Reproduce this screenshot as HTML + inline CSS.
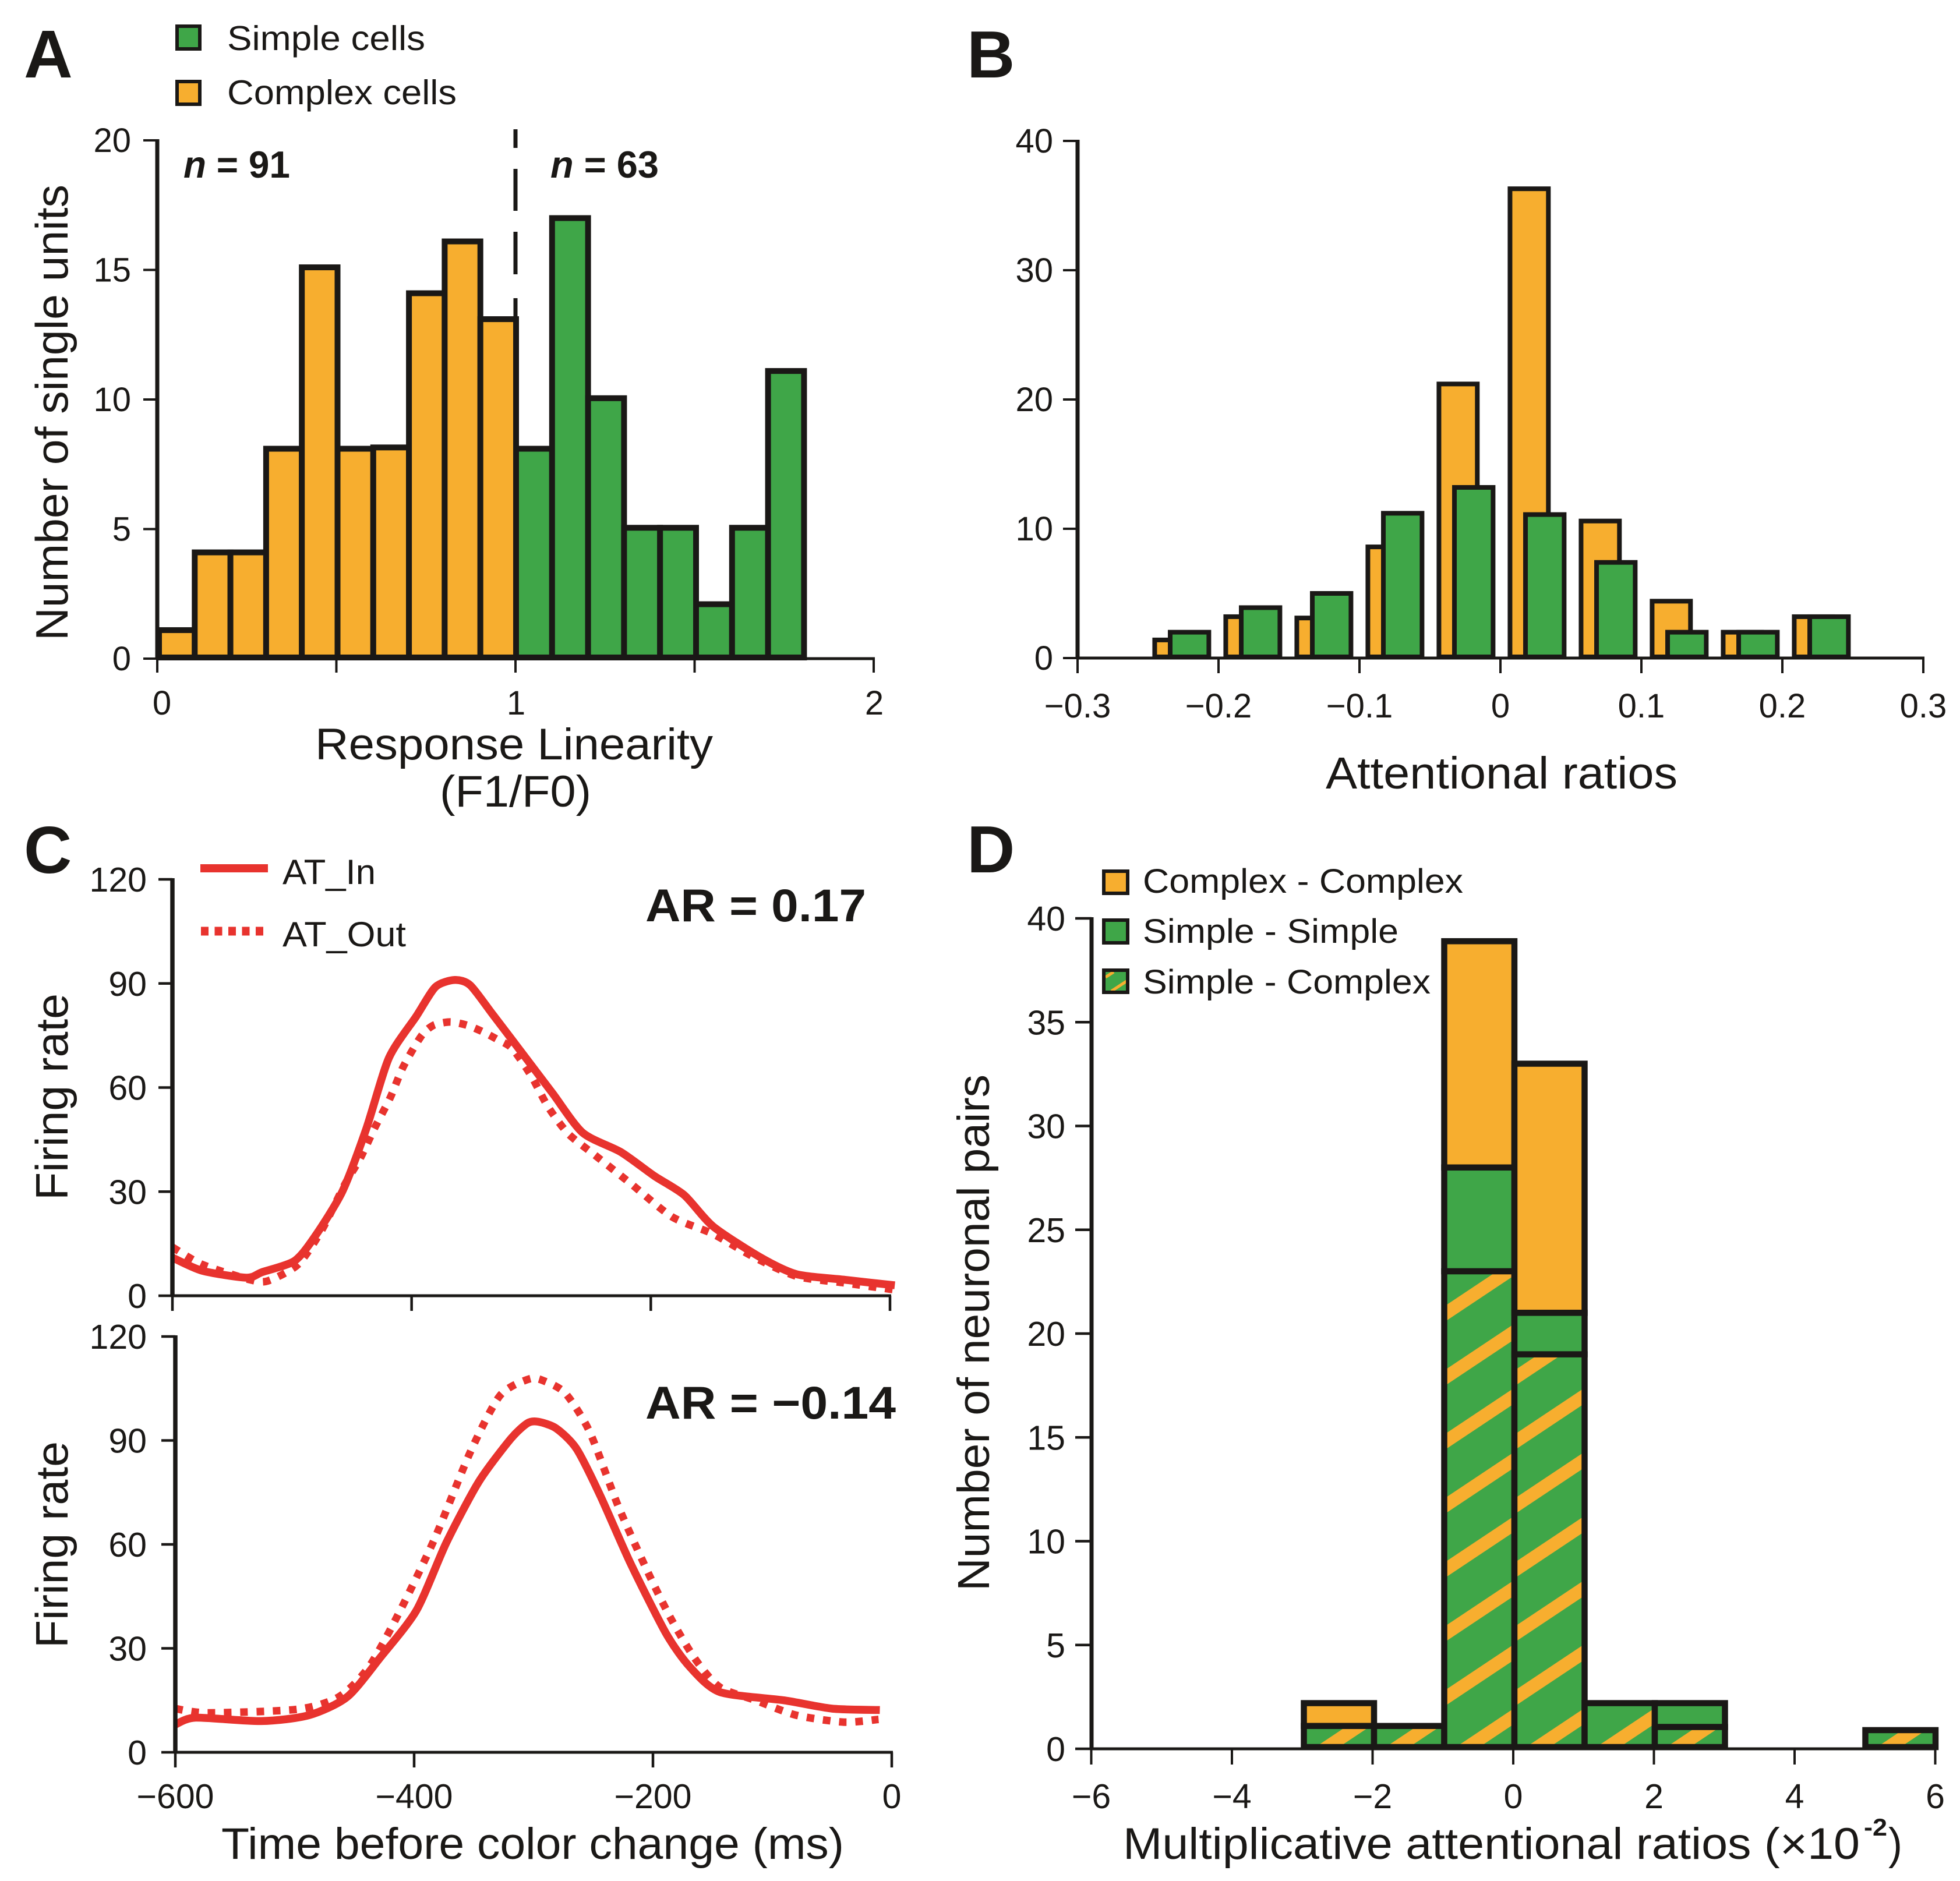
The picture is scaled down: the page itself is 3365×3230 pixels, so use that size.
<!DOCTYPE html>
<html lang="en">
<head>
<meta charset="utf-8">
<title>Attention and response linearity figure</title>
<style>
html,body{margin:0;padding:0;background:#fff}
svg{display:block;font-family:"Liberation Sans",Arial,sans-serif}
text{fill:#1a1816}
.b{font-weight:bold}
</style>
</head>
<body>
<svg id="fig" width="3365" height="3230" viewBox="0 0 3365 3230" xmlns="http://www.w3.org/2000/svg">
<defs id="defs"></defs>
<rect width="3365" height="3230" fill="#fff"/>

<g id="panelA"></g>
<g id="panelB"></g>
<g id="panelC"></g>
<g id="panelD"></g>

<!-- Panel letters -->
<text class="b" x="41" y="133" font-size="116">A</text>
<text class="b" x="1660" y="133" font-size="114">B</text>
<text class="b" x="41" y="1499" font-size="114">C</text>
<text class="b" x="1660" y="1498" font-size="114">D</text>

<!-- Panel A static -->
<g>
<rect x="304" y="45" width="39" height="39" fill="#3FA648" stroke="#1a1816" stroke-width="6"/>
<text x="390" y="86" font-size="59" textLength="340" lengthAdjust="spacingAndGlyphs">Simple cells</text>
<rect x="304" y="140" width="39" height="39" fill="#F7AE2F" stroke="#1a1816" stroke-width="6"/>
<text x="390" y="179" font-size="59" textLength="394" lengthAdjust="spacingAndGlyphs">Complex cells</text>
</g>
<text class="b" x="315" y="305" font-size="65" textLength="183" lengthAdjust="spacingAndGlyphs"><tspan font-style="italic">n</tspan> = 91</text>
<text class="b" x="945" y="305" font-size="65" textLength="186" lengthAdjust="spacingAndGlyphs"><tspan font-style="italic">n</tspan> = 63</text>
<text transform="translate(116,1100) rotate(-90)" font-size="78" textLength="783" lengthAdjust="spacingAndGlyphs">Number of single units</text>
<text x="541" y="1304" font-size="76" textLength="683" lengthAdjust="spacingAndGlyphs">Response Linearity</text>
<text x="755" y="1385" font-size="76" textLength="260" lengthAdjust="spacingAndGlyphs">(F1/F0)</text>

<!-- Panel B static -->
<text x="2276" y="1354" font-size="77" textLength="604" lengthAdjust="spacingAndGlyphs">Attentional ratios</text>

<!-- Panel C static -->
<g>
<line x1="344" y1="1491" x2="460" y2="1491" stroke="#E8332E" stroke-width="14"/>
<text x="485" y="1518" font-size="60" textLength="160" lengthAdjust="spacingAndGlyphs">AT_In</text>
<line x1="345" y1="1599" x2="452" y2="1599" stroke="#E8332E" stroke-width="15" stroke-dasharray="13 10.5"/>
<text x="485" y="1625" font-size="60" textLength="212" lengthAdjust="spacingAndGlyphs">AT_Out</text>
</g>
<text class="b" x="1108" y="1582" font-size="79" textLength="379" lengthAdjust="spacingAndGlyphs">AR = 0.17</text>
<text class="b" x="1108" y="2436" font-size="79" textLength="430" lengthAdjust="spacingAndGlyphs">AR = −0.14</text>
<text transform="translate(116,2061) rotate(-90)" font-size="78" textLength="355" lengthAdjust="spacingAndGlyphs">Firing rate</text>
<text transform="translate(116,2830) rotate(-90)" font-size="78" textLength="355" lengthAdjust="spacingAndGlyphs">Firing rate</text>
<text x="380" y="3192" font-size="76" textLength="1069" lengthAdjust="spacingAndGlyphs">Time before color change (ms)</text>

<!-- Panel D static -->
<g>
<rect x="1895" y="1496" width="41" height="38" fill="#F7AE2F" stroke="#1a1816" stroke-width="6"/>
<text x="1962" y="1533" font-size="58" textLength="550" lengthAdjust="spacingAndGlyphs">Complex - Complex</text>
<rect x="1895" y="1580" width="41" height="39" fill="#3FA648" stroke="#1a1816" stroke-width="6"/>
<text x="1962" y="1619" font-size="58" textLength="439" lengthAdjust="spacingAndGlyphs">Simple - Simple</text>
<rect x="1895" y="1666" width="41" height="38" fill="#3FA648"/>
<path d="M1898 1678 L1912 1669 M1908 1702 L1934 1685" stroke="#F7AE2F" stroke-width="5" fill="none"/>
<rect x="1895" y="1666" width="41" height="38" fill="none" stroke="#1a1816" stroke-width="6"/>
<text x="1962" y="1706" font-size="58" textLength="494" lengthAdjust="spacingAndGlyphs">Simple - Complex</text>
</g>
<text transform="translate(1698,2732) rotate(-90)" font-size="77" textLength="887" lengthAdjust="spacingAndGlyphs">Number of neuronal pairs</text>
<text x="1928" y="3192" font-size="76" textLength="1265" lengthAdjust="spacingAndGlyphs">Multiplicative attentional ratios (×10</text>
<text class="b" x="3200" y="3152" font-size="42" textLength="40" lengthAdjust="spacingAndGlyphs">-2</text>
<text x="3242" y="3192" font-size="76" textLength="24" lengthAdjust="spacingAndGlyphs">)</text>
</svg>

<script>
// Panel A data
const aYTicks = [0, 5, 10, 15, 20];
const aXTicks = [0, 0.5, 1, 1.5, 2];
const aXLabels = [0, 1, 2];
const aComplexCounts = [1.1, 4.1, 4.1, 8.1, 15.1, 8.1, 8.15, 14.1, 16.1, 13.1];
const aSimpleCounts = [8.1, 17, 10.05, 5.05, 5.05, 2.1, 5.05, 11.1];

// Panel B data
const bYTicks = [0, 10, 20, 30, 40];
const bXTicks = [-0.3, -0.2, -0.1, 0, 0.1, 0.2, 0.3];
const bXLabels = ['−0.3', '−0.2', '−0.1', '0', '0.1', '0.2', '0.3'];
const bBinCenters = [-0.225, -0.175, -0.125, -0.075, -0.025, 0.025, 0.075, 0.125, 0.175, 0.225];
const bComplexCounts = [1.4, 3.2, 3.1, 8.6, 21.2, 36.3, 10.6, 4.4, 2, 3.2];
const bSimpleCounts = [2, 3.9, 5, 11.2, 13.2, 11.1, 7.4, 2, 2, 3.2];

// Panel C data
const cYTicks = [0, 30, 60, 90, 120];
const cXTicks = [-600, -400, -200, 0];
const cXLabels = ['−600', '−400', '−200', '0'];
const topInTimes = [-600, -575, -538, -525, -498, -481, -458, -438, -419, -396, -380, -364, -351, -332, -302, -282, -257, -225, -197, -172, -148, -108, -78, -38, 4];
const topInRates = [11, 7.2, 5.2, 6.8, 10, 17, 30, 48, 68.5, 80.6, 89, 91, 89.5, 81, 67.4, 58.3, 47, 41.4, 34.5, 29, 20, 11, 6.2, 4.6, 3];
const topOutTimes = [-600, -575, -535, -520, -495, -475, -456, -443, -431, -418, -407, -392, -382, -368, -354, -340, -328, -316, -300, -286, -269, -247, -217, -182, -148, -113, -78, -38, 4];
const topOutRates = [14, 9, 4.6, 4.3, 9, 19, 32, 39.6, 48.3, 57, 66, 74.8, 77.9, 78.9, 78, 76, 73.8, 71.3, 63.4, 54.5, 46.7, 40.6, 32.4, 22.7, 17.8, 11, 5.6, 3.7, 1.7];
const botInTimes = [-600, -583, -528, -488, -456, -428, -398, -373, -346, -319, -305, -296, -281, -264, -244, -219, -189, -169, -144, -90, -50, -10];
const botInRates = [8, 10, 9, 10.7, 16, 27.5, 41, 60.5, 78, 90.5, 95, 95.4, 93.5, 87.6, 74, 54.7, 34.3, 24.6, 17.4, 15, 12.6, 12.2];
const botOutTimes = [-600, -573, -498, -463, -438, -413, -383, -353, -328, -303, -290, -273, -253, -229, -204, -184, -164, -144, -114, -80, -40, -11];
const botOutRates = [12.6, 11.4, 12.4, 16, 24.6, 40, 61.5, 86.6, 103, 107.8, 107, 103.5, 92.5, 71, 51.8, 38, 26.6, 18.8, 15, 10.7, 8.7, 9.5];

// Panel D data
const dYTicks = [0, 5, 10, 15, 20, 25, 30, 35, 40];
const dXTicks = [-6, -4, -2, 0, 2, 4, 6];
const dXLabels = ['−6', '−4', '−2', '0', '2', '4', '6'];
const dBinStarts = [-3, -2, -1, 0, 1, 2, 5];
const dSimpleComplex = [1.1, 1.1, 23, 19, 2.2, 1.05, 0.9];
const dSimpleSimple = [0, 0, 5, 2, 0, 1.15, 0];
const dComplexComplex = [1.1, 0, 10.9, 12, 0, 0, 0];

const NS = 'http://www.w3.org/2000/svg';
const INK = '#1a1816', ORANGE = '#F7AE2F', GREEN = '#3FA648', RED = '#E8332E';

function make(parent, tag, attrs) {
  const el = document.createElementNS(NS, tag);
  for (const k in attrs) el.setAttribute(k, attrs[k]);
  parent.appendChild(el);
  return el;
}

function line(parent, name, x1, y1, x2, y2, width) {
  const el = make(parent, 'line', {x1: x1, y1: y1, x2: x2, y2: y2, stroke: INK, 'stroke-width': width});
  
  
  return el;
}

function tickLabel(parent, name, str, x, y, size, anchor) {
  const el = make(parent, 'text', {x: x, y: y, 'font-size': size, 'text-anchor': anchor});
  el.textContent = str;
  
  
  return el;
}

function bar(parent, name, x0, x1, yTop, yBase, fill, width) {
  const el = make(parent, 'rect', {
    x: Math.min(x0, x1), y: yTop, width: Math.abs(x1 - x0), height: yBase - yTop,
    fill: fill, stroke: INK, 'stroke-width': width
  });
  
  
  return el;
}

function smoothPath(xs, ys) {
  let d = 'M' + xs[0].toFixed(1) + ' ' + ys[0].toFixed(1);
  const n = xs.length;
  const k = 8;
  for (let i = 0; i < n - 1; i++) {
    const a = Math.max(i - 1, 0), b = i + 1, c = Math.min(i + 2, n - 1);
    const c1x = xs[i] + (xs[b] - xs[a]) / k, c1y = ys[i] + (ys[b] - ys[a]) / k;
    const c2x = xs[b] - (xs[c] - xs[i]) / k, c2y = ys[b] - (ys[c] - ys[i]) / k;
    d += ' C' + c1x.toFixed(1) + ' ' + c1y.toFixed(1) + ' ' + c2x.toFixed(1) + ' ' + c2y.toFixed(1) + ' ' + xs[b].toFixed(1) + ' ' + ys[b].toFixed(1);
  }
  return d;
}

/* ---------- Panel A ---------- */
(function () {
  const g = document.getElementById('panelA');
  const x = v => 270 + v * 615;
  const y = v => 1131 - v * 44.5;
  const xLeft = v => 273 + v * 613;
  const xRight = v => 886 + (v - 1) * 618;
  aComplexCounts.forEach((c, i) => {
    bar(g, 'bar-complex-' + i, xLeft(i * 0.1), xLeft((i + 1) * 0.1), y(c), y(0) - 2, ORANGE, 10);
  });
  aSimpleCounts.forEach((c, i) => {
    bar(g, 'bar-simple-' + i, xRight(1 + i * 0.1), xRight(1 + (i + 1) * 0.1), y(c), y(0) - 2, GREEN, 10);
  });
  const dash = line(g, 'threshold-dashed-line', x(1), 222, x(1), 552, 7);
  dash.setAttribute('stroke-dasharray', '32 36 72 36 73 41 40');
  line(g, 'y-axis-a', x(0), y(20) - 2, x(0), y(0) + 2, 7);
  line(g, 'x-axis-a', x(0) - 2, y(0), x(2) + 2, y(0), 5);
  aYTicks.forEach(v => {
    line(g, 'y-tick-a-' + v, 246, y(v), x(0), y(v), 4);
    tickLabel(g, 'y-tick-label-a-' + v, String(v), 225, y(v) + 20, 58, 'end');
  });
  aXTicks.forEach(v => {
    line(g, 'x-tick-a-' + v, x(v), y(0), x(v), y(0) + 24, 4);
  });
  aXLabels.forEach(v => {
    tickLabel(g, 'x-tick-label-a-' + v, String(v), x(v) + (v === 0 ? 8 : 1), 1227, 58, 'middle');
  });
})();

/* ---------- Panel B ---------- */
(function () {
  const g = document.getElementById('panelB');
  const x = v => 2576 + v * 2420;
  const xBar = v => 2579 + v * 2440;
  const y = v => 1130 - v * 22.2;
  bBinCenters.forEach((c, i) => {
    bar(g, 'bar-complex-ratio-' + i, xBar(c - 0.0195), xBar(c + 0.0075), y(bComplexCounts[i]), y(0) - 2, ORANGE, 8);
    bar(g, 'bar-simple-ratio-' + i, xBar(c - 0.0086), xBar(c + 0.0186), y(bSimpleCounts[i]), y(0) - 2, GREEN, 8);
  });
  line(g, 'y-axis-b', 1850, y(40) - 2, 1850, y(0) + 2, 7);
  line(g, 'x-axis-b', 1848, y(0), x(0.3) + 2, y(0), 5);
  bYTicks.forEach(v => {
    line(g, 'y-tick-b-' + v, 1825, y(v), 1850, y(v), 4);
    tickLabel(g, 'y-tick-label-b-' + v, String(v), 1808, y(v) + 20, 58, 'end');
  });
  bXTicks.forEach((v, i) => {
    line(g, 'x-tick-b-' + i, x(v), y(0), x(v), y(0) + 26, 4);
    tickLabel(g, 'x-tick-label-b-' + i, bXLabels[i], x(v), 1232, 58, 'middle');
  });
})();

/* ---------- Panel C ---------- */
function drawFiringPanel(g, id, x0, xScale, y0, yScale, inTimes, inRates, outTimes, outRates) {
  const x = t => x0 + (t + 600) * xScale;
  const y = v => y0 - v * yScale;
  const out = make(g, 'path', {
    d: smoothPath(outTimes.map(x), outRates.map(y)), fill: 'none', stroke: RED,
    'stroke-width': 13, 'stroke-dasharray': '13 15'
  });
  
  
  const inn = make(g, 'path', {
    d: smoothPath(inTimes.map(x), inRates.map(y)), fill: 'none', stroke: RED,
    'stroke-width': 13.5, 'stroke-linejoin': 'round'
  });
  
  
  line(g, 'y-axis-c-' + id, x0, y(120) - 2, x0, y(0) + 2, 7.5);
  line(g, 'x-axis-c-' + id, x0 - 2, y(0), x(0) + 2, y(0), 5);
  cYTicks.forEach(v => {
    line(g, 'y-tick-c-' + id + '-' + v, x0 - 24, y(v), x0, y(v), 4.5);
    tickLabel(g, 'y-tick-label-c-' + id + '-' + v, String(v), 252, y(v) + 21, 59, 'end');
  });
  cXTicks.forEach((t, i) => {
    line(g, 'x-tick-c-' + id + '-' + i, x(t), y(0), x(t), y(0) + 26, 4.5);
  });
}
(function () {
  const g = document.getElementById('panelC');
  drawFiringPanel(g, 'top', 296, 2.0533, 2225, 5.958, topInTimes, topInRates, topOutTimes, topOutRates);
  drawFiringPanel(g, 'bottom', 301, 2.05, 3009, 5.95, botInTimes, botInRates, botOutTimes, botOutRates);
  cXTicks.forEach((t, i) => {
    tickLabel(g, 'x-tick-label-c-' + i, cXLabels[i], 301 + (t + 600) * 2.05, 3105, 59, 'middle');
  });
})();

/* ---------- Panel D ---------- */
(function () {
  const g = document.getElementById('panelD');
  const defs = document.getElementById('defs');
  const x = v => 2598 + v * 120.75;
  const xBar = v => 2600 + v * 120.5;
  const y = v => 3003 - v * 35.65;
  dBinStarts.forEach((s, i) => {
    const pid = 'hatch-' + i;
    const p = make(defs, 'pattern', {id: pid, patternUnits: 'userSpaceOnUse', x: xBar(s) + 5, y: 2240, width: 165, height: 110});
    make(p, 'rect', {width: 165, height: 110, fill: GREEN});
    make(p, 'path', {d: 'M0 0 L165 -110 L165 -83 L0 27 Z M0 110 L165 0 L165 27 L0 137 Z', fill: ORANGE});
    const sc = dSimpleComplex[i], ss = dSimpleSimple[i], cc = dComplexComplex[i];
    if (cc > 0) {
      bar(g, 'bar-complex-complex-' + i, xBar(s), xBar(s + 1), y(sc + ss + cc), y(sc + ss), ORANGE, 10.5);
    }
    if (ss > 0) {
      bar(g, 'bar-simple-simple-' + i, xBar(s), xBar(s + 1), y(sc + ss), y(sc), GREEN, 10.5);
    }
    bar(g, 'bar-simple-complex-' + i, xBar(s), xBar(s + 1), y(sc), y(0) - 3, 'url(#' + pid + ')', 10.5);
  });
  line(g, 'y-axis-d', 1874, y(40) - 2, 1874, y(0) + 2, 7);
  line(g, 'x-axis-d', 1872, y(0), x(6) + 2, y(0), 5);
  dYTicks.forEach(v => {
    line(g, 'y-tick-d-' + v, 1846, y(v), 1874, y(v), 4.5);
    tickLabel(g, 'y-tick-label-d-' + v, String(v), 1829, y(v) + 21, 59, 'end');
  });
  dXTicks.forEach((v, i) => {
    line(g, 'x-tick-d-' + i, x(v), y(0), x(v), y(0) + 27, 4);
    tickLabel(g, 'x-tick-label-d-' + i, dXLabels[i], x(v), 3105, 59, 'middle');
  });
})();
</script>
</body>
</html>
